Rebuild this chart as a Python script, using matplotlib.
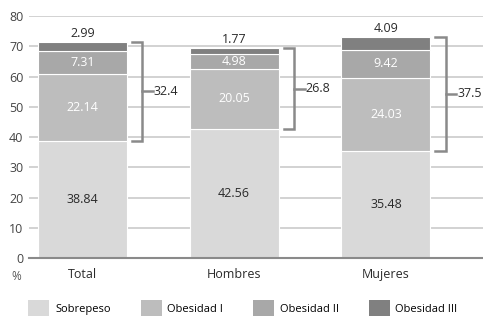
import numpy as np
import matplotlib.pyplot as plt

plt.rcParams['font.family'] = ['Open Sans', 'DejaVu Sans']

categorias = ['Total', 'Hombres', 'Mujeres']
sobrepeso = [38.84, 42.56, 35.48]
obesidad_1 = [22.14, 20.05, 24.03]
obesidad_2 = [7.31, 4.98, 9.42]
obesidad_3 = [2.99, 1.77, 4.09]
obesidad_total = ['32.4', '26.8', '37.5']
series = ['Sobrepeso', 'Obesidad I', 'Obesidad II', 'Obesidad III']
colores = ['#d9d9d9', '#bdbdbd', '#a8a8a8', '#808080']

fig = plt.figure(figsize=(4.83, 3.27), dpi=100)
ax = fig.add_axes([0.06, 0.211, 0.94, 0.74])

x = np.arange(len(categorias))
w = 0.585
datos = [sobrepeso, obesidad_1, obesidad_2, obesidad_3]
base = np.zeros(len(categorias))
barras = []
for vals, c, nombre in zip(datos, colores, series):
    b = ax.bar(x, vals, w, bottom=base, color=c, edgecolor='white', linewidth=0.8,
               label=nombre, zorder=2)
    barras.append(b)
    base = base + np.array(vals)

# etiquetas dentro de las barras
for i in range(len(categorias)):
    ax.text(x[i], sobrepeso[i] / 2, f'{sobrepeso[i]:.2f}', ha='center', va='center',
            fontsize=9, color='#2a2a2a', zorder=3)
    ax.text(x[i], sobrepeso[i] + obesidad_1[i] / 2, f'{obesidad_1[i]:.2f}', ha='center',
            va='center', fontsize=9, color='white', zorder=3)
    y2 = sobrepeso[i] + obesidad_1[i]
    ax.text(x[i], y2 + obesidad_2[i] / 2, f'{obesidad_2[i]:.2f}', ha='center',
            va='center', fontsize=9, color='white', zorder=3)
    ax.annotate(f'{obesidad_3[i]:.2f}', (x[i], base[i]), xytext=(0, 1.5),
                textcoords='offset points', ha='center', va='bottom', fontsize=9,
                color='#2a2a2a', zorder=3)

    # corchete
    y0 = sobrepeso[i]
    y1 = base[i]
    xa = x[i] + 0.326
    xb = x[i] + 0.395
    ym = (y0 + y1) / 2
    ax.plot([xa, xb, xb, xa], [y1, y1, y0, y0], color='#8a8a8a', lw=1.8,
            solid_joinstyle='miter', zorder=3, clip_on=False)
    ax.plot([xb, xb + 0.07], [ym, ym], color='#8a8a8a', lw=1.8, zorder=3)
    ax.text(xb + 0.075, ym, obesidad_total[i], ha='left', va='center', fontsize=9,
            color='#2a2a2a', zorder=3)

ax.set_xlim(-0.352, 2.64)
ax.set_ylim(0, 80)
ax.set_yticks(range(0, 81, 10))
ax.set_xticks(x)
ax.set_xticklabels(categorias)
ax.tick_params(axis='both', length=0, labelsize=9, colors='#2a2a2a')
ax.tick_params(axis='x', pad=7)
ax.tick_params(axis='y', pad=4, labelcolor='#444444')
ax.grid(axis='y', color='#cfcfcf', lw=1.3, zorder=0)
ax.set_axisbelow(True)
for s in ['top', 'right', 'left']:
    ax.spines[s].set_visible(False)
ax.spines['bottom'].set_color('#8a8a8a')
ax.spines['bottom'].set_linewidth(1.5)
ax.spines['bottom'].set_zorder(4)

fig.text(16 / 483, 1 - 276 / 327, '%', ha='center', va='center', fontsize=8.5, color='#555555')

# leyenda
leg = fig.legend(handles=barras, labels=series, loc='center', ncol=4,
                 bbox_to_anchor=(0.503, 1 - 308 / 327), frameon=False, fontsize=8,
                 handlelength=1.9, handleheight=1.9, handletextpad=0.5, columnspacing=2.7)
for h in leg.legend_handles:
    h.set_edgecolor('none')

fig.savefig('out.png', dpi=100)
